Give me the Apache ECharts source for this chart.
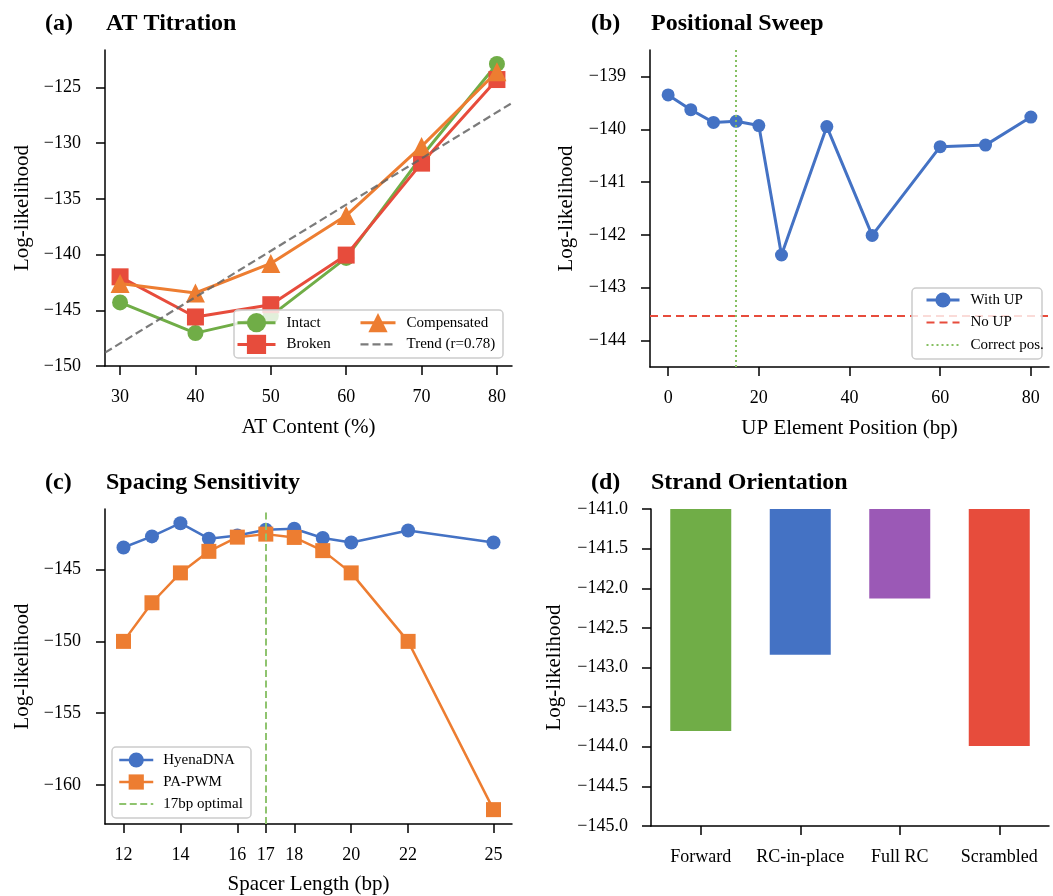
<!DOCTYPE html>
<html><head><meta charset="utf-8">
<script src="https://cdn.jsdelivr.net/npm/echarts@6/dist/echarts.min.js"></script>
<style>html,body{margin:0;padding:0;background:#fff}#c{width:1053px;height:896px}</style>
</head><body><div id="c"></div>
<script>
const FONT = "'Liberation Serif','Times New Roman',serif";
// ---- (a) AT Titration ----
const atContent = [30, 40, 50, 60, 70, 80];
const intact = [-144.3, -147.05, -145.5, -140.3, -131.2, -122.9];
const broken = [-142.0, -145.6, -144.5, -140.05, -131.8, -124.3];
const compensated = [-142.6, -143.45, -140.8, -136.5, -130.3, -123.6];
const trendX = [28, 82];
const trendY = [-148.8, -126.4];
const aXTicks = [30, 40, 50, 60, 70, 80];
const aYTicks = [-150, -145, -140, -135, -130, -125];
// ---- (b) Positional Sweep ----
const upPos = [0, 5, 10, 15, 20, 25, 35, 45, 60, 70, 80];
const withUP = [-139.35, -139.63, -139.87, -139.85, -139.93, -142.38, -139.95, -142.01, -140.33, -140.30, -139.77];
const noUP = -143.53;
const correctPos = 15;
const bXTicks = [0, 20, 40, 60, 80];
const bYTicks = [-144, -143, -142, -141, -140, -139];
// ---- (c) Spacing Sensitivity ----
const spacer = [12, 13, 14, 15, 16, 17, 18, 19, 20, 22, 25];
const hyena = [-143.46, -142.69, -141.77, -142.85, -142.63, -142.23, -142.16, -142.8, -143.11, -142.28, -143.11];
const paPwm = [-150.0, -147.31, -145.23, -143.73, -142.74, -142.53, -142.76, -143.68, -145.23, -150.0, -161.72];
const optimal = 17;
const cXTicks = [12, 14, 16, 17, 18, 20, 22, 25];
const cYTicks = [-160, -155, -150, -145];
// ---- (d) Strand Orientation ----
const strands = ['Forward', 'RC-in-place', 'Full RC', 'Scrambled'];
const strandLL = [-143.80, -142.84, -142.13, -143.99];
const strandColors = ['#70AD47', '#4472C4', '#9B59B6', '#E74C3C'];

const zip = (xs, ys) => xs.map((x, i) => [x, ys[i]]);
const minus = v => (v < 0 ? '\u2212' : '') + Math.abs(v);

function axisBase(gi, opts) {
  return Object.assign({
    gridIndex: gi,
    type: 'value',
    axisLine: { show: true, onZero: false, lineStyle: { color: '#000', width: 1.5 } },
    axisTick: { show: true, length: 9, lineStyle: { color: '#000', width: 1.5 } },
    axisLabel: { color: '#000', fontSize: 18, fontFamily: FONT, formatter: minus },
    splitLine: { show: false },
    nameLocation: 'middle',
    nameTextStyle: { color: '#000', fontSize: 21, fontFamily: FONT }
  }, opts);
}
function xAx(gi, min, max, ticks, name, gap) {
  const a = axisBase(gi, { min, max, name, nameGap: gap });
  a.axisTick.customValues = ticks;
  a.axisLabel.customValues = ticks;
  a.axisLabel.margin = 22;
  return a;
}
function yAx(gi, min, max, ticks, gap) {
  const a = axisBase(gi, { min, max, name: 'Log-likelihood', nameGap: gap });
  a.axisTick.customValues = ticks;
  a.axisLabel.customValues = ticks;
  a.axisLabel.margin = 24;
  return a;
}

const yD = axisBase(3, { min: -145, max: -141, interval: 0.5, name: 'Log-likelihood', nameGap: 86 });
yD.axisLabel.formatter = v => minus(Number(v.toFixed(1))).replace(/^(\u2212?\d+)$/, '$1.0');
yD.axisLabel.margin = 23;
const xD = {
  gridIndex: 3, type: 'category', data: strands,
  axisLine: { show: true, lineStyle: { color: '#000', width: 1.5 } },
  axisTick: { show: true, alignWithLabel: true, length: 9, lineStyle: { color: '#000', width: 1.5 } },
  axisLabel: { color: '#000', fontSize: 18, fontFamily: FONT, margin: 22, interval: 0 },
  splitLine: { show: false }
};

function legendStyle(pad) {
  return { color: '#000', fontSize: 15, fontFamily: FONT, padding: [0, 0, 0, pad] };
}
const legLine = { width: 'inherit' };
const noMarker = { color: 'rgba(0,0,0,0)', borderWidth: 0, opacity: 0 };
const frame = (x, y, w, h) => ({
  type: 'rect', z: 8, shape: { x, y, width: w, height: h, r: 4 },
  style: { fill: 'rgba(255,255,255,0.8)', stroke: '#cccccc', lineWidth: 1.5 }
});
const title = (x, y, text) => ({
  type: 'text', x, y, z: 10,
  style: { text, fill: '#000', font: "bold 24px 'Liberation Serif','Times New Roman',serif", verticalAlign: 'middle' }
});

const option = {
  animation: false,
  grid: [
    { left: 105, top: 50, width: 407, height: 316 },
    { left: 650, top: 50, width: 399, height: 317 },
    { left: 105, top: 509, width: 407, height: 317 },
    { left: 651, top: 509, width: 398, height: 317 }
  ],
  xAxis: [
    xAx(0, 28, 82, aXTicks, 'AT Content (%)', 51),
    xAx(1, -4, 84, bXTicks, 'UP Element Position (bp)', 51),
    xAx(2, 11.35, 25.65, cXTicks, 'Spacer Length (bp)', 50),
    xD
  ],
  yAxis: [
    yAx(0, -150, -121.65, aYTicks, 72),
    yAx(1, -144.5, -138.5, bYTicks, 73),
    yAx(2, -162.72, -140.78, cYTicks, 72),
    yD
  ],
  legend: [
    { data: ['Intact', 'Broken'], orient: 'vertical', left: 236, top: 313.1, itemWidth: 38, itemHeight: 24, itemGap: 2.5, padding: 0, selectedMode: false, z: 10, lineStyle: legLine, textStyle: legendStyle(6) },
    { data: ['Compensated', { name: 'Trend (r=0.78)', itemStyle: noMarker }], orient: 'vertical', left: 359, top: 313.1, itemWidth: 35, itemHeight: 24, itemGap: 2.5, padding: 0, selectedMode: false, z: 10, lineStyle: legLine, textStyle: legendStyle(6) },
    { data: ['With UP', { name: 'No UP', itemStyle: noMarker }, { name: 'Correct pos.', itemStyle: noMarker }], orient: 'vertical', left: 925, top: 292.4, itemWidth: 33, itemHeight: 19, itemGap: 7.3, padding: 0, selectedMode: false, z: 10, lineStyle: legLine, textStyle: legendStyle(6) },
    { data: ['HyenaDNA', 'PA-PWM', { name: '17bp optimal', itemStyle: noMarker }], orient: 'vertical', left: 118, top: 752.4, itemWidth: 34, itemHeight: 19, itemGap: 6.8, padding: 0, selectedMode: false, z: 10, lineStyle: legLine, textStyle: legendStyle(5) }
  ],
  graphic: [
    frame(234, 310, 269, 48),
    frame(912, 288, 130, 71),
    frame(112, 747, 139, 71),
    title(45, 24, '(a)'), title(106, 24, 'AT Titration'),
    title(591, 24, '(b)'), title(651, 24, 'Positional Sweep'),
    title(45, 483, '(c)'), title(106, 483, 'Spacing Sensitivity'),
    title(591, 483, '(d)'), title(651, 483, 'Strand Orientation')
  ],
  series: [
    { name: 'Intact', type: 'line', xAxisIndex: 0, yAxisIndex: 0, data: zip(atContent, intact), color: '#70AD47', symbol: 'circle', symbolSize: 16, lineStyle: { width: 3 }, z: 2 },
    { name: 'Broken', type: 'line', xAxisIndex: 0, yAxisIndex: 0, data: zip(atContent, broken), color: '#E74C3C', symbol: 'rect', symbolSize: 17, lineStyle: { width: 3 }, z: 3 },
    { name: 'Compensated', type: 'line', xAxisIndex: 0, yAxisIndex: 0, data: zip(atContent, compensated), color: '#ED7D31', symbol: 'triangle', symbolSize: 19, lineStyle: { width: 3 }, z: 4 },
    { name: 'Trend (r=0.78)', type: 'line', xAxisIndex: 0, yAxisIndex: 0, data: zip(trendX, trendY), color: 'rgba(100,100,100,0.85)', symbol: 'none', lineStyle: { width: 2.2, type: [8, 4] }, z: 5 },

    { name: 'With UP', type: 'line', xAxisIndex: 1, yAxisIndex: 1, data: zip(upPos, withUP), color: '#4472C4', symbol: 'circle', symbolSize: 13, lineStyle: { width: 3 }, z: 3 },
    { name: 'No UP', type: 'line', xAxisIndex: 1, yAxisIndex: 1, data: [], color: '#E74C3C', symbol: 'none', lineStyle: { width: 2.2, type: [8, 5] }, z: 2,
      markLine: { silent: true, symbol: ['none', 'none'], label: { show: false }, lineStyle: { color: '#E74C3C', width: 2.2, type: [8, 5] }, data: [{ yAxis: noUP }] } },
    { name: 'Correct pos.', type: 'line', xAxisIndex: 1, yAxisIndex: 1, data: [], color: '#86c062', symbol: 'none', lineStyle: { width: 2, type: [2, 3] }, z: 2,
      markLine: { silent: true, symbol: ['none', 'none'], label: { show: false }, lineStyle: { color: '#86c062', width: 2, type: [2, 3] }, data: [{ xAxis: correctPos }] } },

    { name: 'HyenaDNA', type: 'line', xAxisIndex: 2, yAxisIndex: 2, data: zip(spacer, hyena), color: '#4472C4', symbol: 'circle', symbolSize: 14, lineStyle: { width: 2.5 }, z: 2 },
    { name: 'PA-PWM', type: 'line', xAxisIndex: 2, yAxisIndex: 2, data: zip(spacer, paPwm), color: '#ED7D31', symbol: 'rect', symbolSize: 15, lineStyle: { width: 2.5 }, z: 3 },
    { name: '17bp optimal', type: 'line', xAxisIndex: 2, yAxisIndex: 2, data: [], color: '#8fc46f', symbol: 'none', lineStyle: { width: 2, type: [7, 3.5] }, z: 5,
      markLine: { silent: true, symbol: ['none', 'none'], label: { show: false }, lineStyle: { color: '#8fc46f', width: 2, type: [7, 3.5] }, data: [{ xAxis: optimal }] } },

    { name: 'Strand', type: 'bar', xAxisIndex: 3, yAxisIndex: 3, barWidth: 61, clip: true,
      data: strandLL.map((v, i) => ({ value: v, itemStyle: { color: strandColors[i] } })) }
  ]
};
const chart = echarts.init(document.getElementById('c'));
chart.setOption(option);
</script></body></html>
